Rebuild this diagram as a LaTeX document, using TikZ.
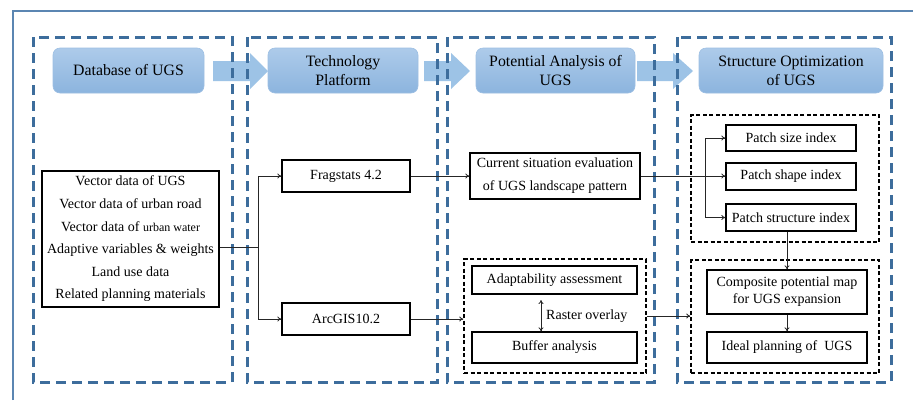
\documentclass[tikz,border=0pt]{standalone}
\usepackage{fontspec}
\setmainfont{Liberation Serif}
\usetikzlibrary{arrows.meta,calc}
\definecolor{frameblue}{HTML}{5B86B2}
\definecolor{dashblue}{HTML}{3D6D9C}
\definecolor{hdtop}{HTML}{ADCBEA}
\definecolor{hdbot}{HTML}{8CB4DE}
\definecolor{arrowblue}{HTML}{9DC3E6}
\newcommand\blockarrow[3]{\fill[arrowblue] (#1,61) -- (#2,61) -- (#2,53) -- (#3,71) -- (#2,89) -- (#2,81) -- (#1,81) -- cycle;}
\begin{document}
\begin{tikzpicture}[x=1pt,y=-1pt,
  col/.style={draw=dashblue, line width=3pt, dash pattern=on 10pt off 6pt},
  grp/.style={draw=black, line width=1.4pt, dash pattern=on 4pt off 2.5pt, inner sep=0pt},
  hdr/.style={rounded corners=7pt, top color=hdtop, bottom color=hdbot, draw=hdbot!85!white, line width=0.6pt, align=center, font=\fontsize{15.8}{19}\selectfont, inner sep=0pt, minimum height=45pt},
  box/.style={draw=black, line width=1.3pt, align=center, inner sep=0pt, font=\fontsize{14}{17}\selectfont},
  conn/.style={draw=black!85, line width=0.8pt, -{To[length=4pt,width=5pt]}},
  plain/.style={draw=black!85, line width=0.8pt},
  ]
\useasboundingbox (0,0) rectangle (913,400);
\fill[white] (0,0) rectangle (913,400);
% outer frame
\draw[frameblue, line width=1.8pt] (13,400) -- (13,11) -- (913,11);
% block arrows
\blockarrow{213}{250}{268}
\blockarrow{424}{451}{470}
\blockarrow{637}{673}{693}
% columns
\draw[col] (33,37) rectangle (232,382);
\draw[col] (247,37) rectangle (437,382);
\draw[col] (447,37) rectangle (654,382);
\draw[col] (677,37) rectangle (891,382);
% headers
\node[hdr, minimum width=151pt] (h1) at (128.5,70.5) {Database of UGS};
\node[hdr, minimum width=150pt] (h2) at (343,70.5) {Technology\\Platform};
\node[hdr, minimum width=159pt] (h3) at (555.5,70.5) {Potential Analysis of\\UGS};
\node[hdr, minimum width=184pt] (h4) at (791,70.5) {Structure Optimization\\of UGS};
% data box
\node[box, minimum width=177pt, minimum height=136pt, font=\fontsize{14}{22.6}\selectfont] (data) at (130.5,239)
  {Vector data of UGS\\Vector data of urban road\\Vector data of {\fontsize{12}{12}\selectfont urban water}\\Adaptive variables \& weights\\Land use data\\Related planning materials};
% platform
\node[box, minimum width=128pt, minimum height=32pt] (frag) at (346,176) {Fragstats 4.2};
\node[box, minimum width=128pt, minimum height=32pt] (arc) at (346,319) {ArcGIS10.2};
% potential analysis
\node[box, minimum width=170pt, minimum height=46pt, font=\fontsize{14}{23}\selectfont] (cur) at (555,176) {Current situation evaluation\\of UGS landscape pattern};
\node[grp, minimum width=182pt, minimum height=114pt] (g3) at (555,316) {};
\node[box, minimum width=165pt, minimum height=28pt] (adapt) at (554.5,280) {Adaptability assessment};
\node[box, minimum width=165pt, minimum height=31pt] (buf) at (554.5,347.5) {Buffer analysis};
\node[anchor=west, inner sep=0pt, font=\fontsize{14}{17}\selectfont] (ro) at (546,316) {Raster overlay};
% structure optimization
\node[grp, minimum width=188pt, minimum height=127pt] (g4a) at (785,178.5) {};
\node[box, minimum width=130pt, minimum height=26pt] (size) at (791,138) {Patch size index};
\node[box, minimum width=130pt, minimum height=27pt] (shape) at (791,176.5) {Patch shape index};
\node[box, minimum width=130pt, minimum height=27pt] (struct) at (791,217.5) {Patch structure index};
\node[grp, minimum width=188pt, minimum height=113pt] (g4b) at (785,316.5) {};
\node[box, minimum width=160pt, minimum height=44pt] (comp) at (787,292) {Composite potential map\\for UGS expansion};
\node[box, minimum width=160pt, minimum height=31pt] (ideal) at (787,347.5) {Ideal planning of~ UGS};
% connectors
\coordinate (j1) at (258,247);
\draw[plain] (data.east |- j1) -- (j1);
\draw[conn] (j1) |- (frag.west);
\draw[conn] (j1) |- (arc.west);
\draw[conn] (frag.east) -- (cur.west |- frag.east);
\draw[conn] (arc.east) -- (g3.west |- arc.east);
\draw[conn] (cur.east) -- (shape.west |- cur.east);
\coordinate (j2) at (705,176);
\draw[conn] (j2) |- (size.west);
\draw[conn] (j2) |- (struct.west);
\coordinate (ra) at (541,300);
\draw[draw=black!85, line width=0.8pt, {To[length=4pt,width=5pt]}-{To[length=4pt,width=5pt]}] (ra) -- (ra |- buf.north);
\draw[conn] (g3.east) -- (g4b.west |- g3.east);
\draw[conn] (comp.north |- struct.south) -- (comp.north);
\draw[conn] (comp.south) -- (ideal.north);
\end{tikzpicture}
\end{document}
